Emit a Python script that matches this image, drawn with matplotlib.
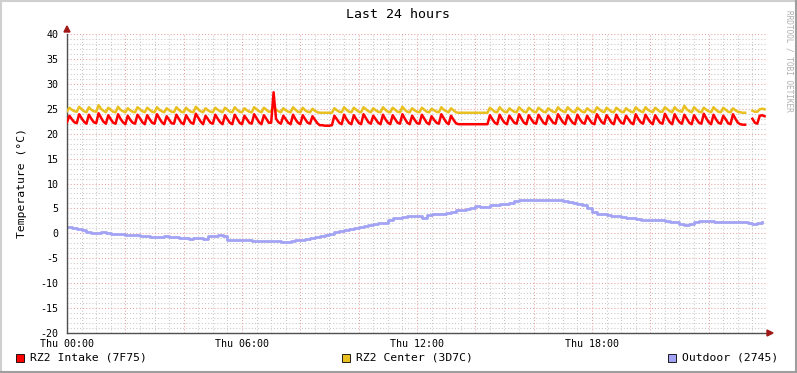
import numpy as np
import matplotlib
matplotlib.use("Agg")
import matplotlib.pyplot as plt
from matplotlib.patches import Rectangle, Polygon
from matplotlib.lines import Line2D

# ---- data (5 min samples for the rack sensors, 10 min for outdoor) ----
nan = float("nan")
intake = [
    22.3, 23.6, 22.9, 22.3, 22.1, 23.9, 23.1, 22.4, 22.0, 23.8, 23.0, 22.3,
    22.1, 24.1, 23.2, 22.4, 22.0, 23.7, 22.9, 22.2, 22.0, 23.9, 23.0, 22.3,
    21.9, 23.6, 22.8, 22.2, 22.0, 23.8, 23.1, 22.3, 21.9, 23.7, 22.9, 22.2,
    22.0, 23.9, 23.1, 22.3, 21.9, 23.5, 22.8, 22.1, 22.0, 23.8, 23.0, 22.2,
    21.9, 23.7, 22.9, 22.2, 22.0, 24.0, 23.2, 22.4, 21.9, 23.6, 22.9, 22.2,
    22.0, 23.8, 23.0, 22.3, 21.9, 23.7, 22.9, 22.2, 21.9, 23.8, 23.0, 22.2,
    21.9, 23.6, 22.9, 22.2, 22.0, 23.9, 23.1, 22.3, 21.9, 23.7, 23.0, 22.2,
    22.2, 28.3, 23.0, 22.3, 22.0, 23.6, 22.9, 22.2, 21.9, 23.8, 22.9, 22.2,
    21.9, 23.7, 22.9, 22.2, 22.0, 23.5, 22.8, 22.1, 21.7, 21.7, 21.6, 21.6,
    21.6, 21.7, 23.6, 22.9, 22.2, 21.9, 23.8, 22.9, 22.2, 21.9, 23.7, 22.9,
    22.2, 21.9, 23.9, 23.1, 22.3, 22.0, 23.6, 22.9, 22.2, 21.9, 23.8, 22.9,
    22.2, 21.9, 23.7, 22.9, 22.2, 22.0, 23.9, 23.0, 22.2, 21.9, 23.6, 22.8,
    22.1, 22.0, 23.8, 23.0, 22.2, 21.9, 23.5, 22.8, 22.2, 22.0, 23.9, 23.1,
    22.3, 21.9, 23.6, 22.8, 22.1, 21.9, 21.9, 21.9, 21.9, 21.9, 21.9, 21.9,
    21.9, 21.9, 21.9, 21.9, 21.9, 21.9, 23.7, 22.9, 22.2, 21.9, 23.8, 22.9,
    22.2, 21.9, 23.6, 22.9, 22.2, 22.0, 23.9, 23.0, 22.2, 21.9, 23.7, 22.9,
    22.2, 22.0, 23.8, 23.0, 22.2, 21.9, 23.6, 22.9, 22.2, 22.0, 23.9, 23.1,
    22.3, 21.9, 23.7, 22.9, 22.2, 21.9, 23.8, 22.9, 22.2, 22.0, 23.6, 22.8,
    22.1, 21.9, 23.9, 23.1, 22.3, 22.0, 23.7, 23.0, 22.2, 21.9, 23.8, 22.9,
    22.2, 22.0, 23.6, 22.9, 22.2, 21.9, 23.9, 23.0, 22.3, 22.0, 23.8, 23.0,
    22.3, 21.9, 23.7, 22.9, 22.2, 22.0, 24.0, 23.1, 22.3, 21.9, 23.9, 23.0,
    22.3, 22.0, 23.8, 23.0, 22.2, 21.9, 23.7, 22.9, 22.2, 22.0, 24.0, 23.1,
    22.3, 21.9, 23.8, 22.9, 22.2, 22.0, 23.6, 22.9, 22.1, 21.9, 23.9, 23.0,
    22.2, 21.9, 21.8, 21.8, nan, nan, 23.0, 22.2, 22.0, 23.6, 23.7, 23.5,
]
center = [
    24.5, 25.2, 24.8, 24.5, 24.4, 25.4, 24.9, 24.5, 24.3, 25.3, 24.8, 24.5,
    24.4, 25.7, 25.0, 24.6, 24.3, 25.2, 24.8, 24.4, 24.3, 25.4, 24.8, 24.5,
    24.3, 25.1, 24.7, 24.4, 24.3, 25.3, 24.9, 24.5, 24.3, 25.2, 24.8, 24.4,
    24.3, 25.3, 24.8, 24.5, 24.3, 25.1, 24.7, 24.4, 24.3, 25.3, 24.8, 24.4,
    24.3, 25.2, 24.7, 24.4, 24.3, 25.4, 24.9, 24.5, 24.3, 25.1, 24.7, 24.4,
    24.3, 25.2, 24.8, 24.5, 24.3, 25.2, 24.8, 24.4, 24.3, 25.3, 24.8, 24.4,
    24.3, 25.1, 24.7, 24.4, 24.3, 25.3, 24.9, 24.5, 24.3, 25.2, 24.8, 24.4,
    24.5, 25.5, 24.8, 24.5, 24.3, 25.1, 24.7, 24.4, 24.3, 25.3, 24.8, 24.4,
    24.3, 25.2, 24.7, 24.4, 24.3, 25.0, 24.6, 24.3, 24.2, 24.2, 24.2, 24.2,
    24.2, 24.2, 25.1, 24.7, 24.4, 24.3, 25.3, 24.8, 24.4, 24.3, 25.2, 24.8,
    24.4, 24.3, 25.3, 24.9, 24.5, 24.3, 25.1, 24.7, 24.4, 24.3, 25.3, 24.8,
    24.4, 24.3, 25.2, 24.8, 24.4, 24.3, 25.4, 24.8, 24.4, 24.3, 25.1, 24.7,
    24.4, 24.3, 25.2, 24.8, 24.4, 24.3, 25.0, 24.7, 24.4, 24.3, 25.3, 24.8,
    24.5, 24.3, 25.1, 24.7, 24.3, 24.2, 24.2, 24.2, 24.2, 24.2, 24.2, 24.2,
    24.2, 24.2, 24.2, 24.2, 24.2, 24.2, 25.2, 24.8, 24.4, 24.3, 25.3, 24.8,
    24.4, 24.3, 25.1, 24.7, 24.4, 24.3, 25.3, 24.8, 24.4, 24.3, 25.2, 24.8,
    24.4, 24.3, 25.2, 24.8, 24.4, 24.3, 25.1, 24.7, 24.4, 24.3, 25.3, 24.8,
    24.5, 24.3, 25.3, 24.8, 24.4, 24.3, 25.2, 24.8, 24.4, 24.3, 25.1, 24.7,
    24.4, 24.3, 25.3, 24.9, 24.5, 24.3, 25.2, 24.8, 24.4, 24.3, 25.2, 24.8,
    24.4, 24.3, 25.1, 24.7, 24.4, 24.3, 25.3, 24.8, 24.5, 24.3, 25.3, 24.8,
    24.5, 24.3, 25.2, 24.8, 24.4, 24.4, 25.3, 24.9, 24.5, 24.3, 25.3, 24.8,
    24.5, 24.4, 25.6, 24.9, 24.5, 24.3, 25.3, 24.8, 24.4, 24.3, 25.2, 24.8,
    24.5, 24.3, 25.3, 24.8, 24.4, 24.3, 25.2, 24.8, 24.4, 24.3, 25.1, 24.7,
    24.4, 24.3, 24.2, 24.2, nan, nan, 24.6, 24.4, 24.4, 24.9, 25.0, 24.9,
]
outdoor = [
    1.2, 1.1, 0.8, 0.6, 0.3, 0.1, 0.1, 0.3, 0.0, -0.1, -0.2, -0.2,
    -0.3, -0.4, -0.4, -0.5, -0.6, -0.7, -0.8, -0.7, -0.6, -0.7, -0.8, -0.9,
    -1.0, -1.1, -0.9, -0.9, -1.1, -0.5, -0.5, -0.4, -0.6, -1.3, -1.4, -1.4,
    -1.4, -1.3, -1.5, -1.6, -1.6, -1.6, -1.5, -1.6, -1.7, -1.8, -1.6, -1.4,
    -1.4, -1.2, -0.9, -0.8, -0.6, -0.3, -0.1, 0.2, 0.4, 0.6, 0.8, 1.0,
    1.3, 1.5, 1.7, 1.8, 2.0, 2.1, 2.6, 3.0, 3.1, 3.2, 3.4, 3.4,
    3.4, 3.1, 3.7, 3.8, 3.8, 3.9, 4.0, 4.3, 4.6, 4.7, 4.8, 5.0,
    5.4, 5.3, 5.2, 5.6, 5.7, 5.9, 5.9, 6.0, 6.5, 6.7, 6.6, 6.6,
    6.7, 6.7, 6.6, 6.6, 6.7, 6.7, 6.4, 6.2, 6.0, 5.9, 5.7, 5.0,
    4.2, 3.9, 3.8, 3.6, 3.5, 3.4, 3.3, 3.1, 3.0, 2.9, 2.7, 2.7,
    2.7, 2.6, 2.6, 2.4, 2.3, 2.2, 1.9, 1.6, 1.9, 2.2, 2.5, 2.4,
    2.4, 2.3, 2.2, 2.2, 2.2, 2.2, 2.2, 2.2, 2.1, 1.9, 2.1, 2.2,
]
series_names = ["RZ2 Intake (7F75)", "RZ2 Center (3D7C)", "Outdoor (2745)"]
series_colors = ["#FF0000", "#E8C020", "#A3A3F5"]
x_ticks = [0, 6, 12, 18]
x_labels = ["Thu 00:00", "Thu 06:00", "Thu 12:00", "Thu 18:00"]
y_ticks = list(range(-20, 41, 5))

W, H = 797, 373
MONO = "DejaVu Sans Mono"


def fx(px):
    return px / W


def fy(py):
    return 1 - py / H


fig = plt.figure(figsize=(W / 100, H / 100), dpi=100)
fig.patch.set_facecolor("white")

# 3d-ish frame like rrdtool
fig.add_artist(Line2D([0, 1], [1 - 1 / H, 1 - 1 / H], transform=fig.transFigure, color="#CFCFCF", lw=1.5))
fig.add_artist(Line2D([1 / W, 1 / W], [0, 1], transform=fig.transFigure, color="#CFCFCF", lw=1.5))
fig.add_artist(Line2D([0, 1], [1 / H, 1 / H], transform=fig.transFigure, color="#9E9E9E", lw=1.5))
fig.add_artist(Line2D([1 - 1 / W, 1 - 1 / W], [0, 1], transform=fig.transFigure, color="#9E9E9E", lw=1.5))

ax = fig.add_axes([fx(67), fy(333), 700 / W, 299 / H])
ax.set_facecolor("white")
ax.set_xlim(0, 24)
ax.set_ylim(-20, 40)

# grid: minor 30 min / 1 deg, major 2 h / 5 deg
dot = (0, (1, 2))
for h in np.arange(0.5, 24, 0.5):
    if h % 2 != 0:
        ax.axvline(h, color="#C8C8C8", lw=0.75, ls=dot, zorder=0)
for v in range(-19, 41):
    if v % 5 != 0:
        ax.axhline(v, color="#C8C8C8", lw=0.75, ls=dot, zorder=0)
for h in range(2, 25, 2):
    ax.axvline(h, color="#E8A0A0", lw=0.75, ls=dot, zorder=0.5)
for v in range(-15, 41, 5):
    ax.axhline(v, color="#E8A0A0", lw=0.75, ls=dot, zorder=0.5)

t5 = np.arange(len(intake)) * 5 / 60
t10 = np.arange(len(outdoor)) * 10 / 60
ax.plot(t10, outdoor, color=series_colors[2], lw=2.0, drawstyle="steps-post", zorder=2)
ax.plot(t5, center, color=series_colors[1], lw=1.8, zorder=3)
ax.plot(t5, intake, color=series_colors[0], lw=1.8, zorder=4)

for s in ["top", "right"]:
    ax.spines[s].set_visible(False)
for s in ["left", "bottom"]:
    ax.spines[s].set_color("#505050")
    ax.spines[s].set_linewidth(1.0)

ax.set_xticks(x_ticks)
ax.set_xticklabels(x_labels, fontfamily=MONO, fontsize=7.2)
ax.set_yticks(y_ticks)
ax.set_yticklabels([str(v) for v in y_ticks], fontfamily=MONO, fontsize=7.2)
ax.tick_params(axis="x", length=0, pad=4)
ax.tick_params(axis="y", length=0, pad=6)
ax.set_ylabel("Temperature (°C)", fontfamily=MONO, fontsize=8.2, labelpad=10)

# arrows at the axis ends
fig.add_artist(Polygon([[fx(64), fy(32)], [fx(70), fy(32)], [fx(67), fy(26)]],
                       closed=True, transform=fig.transFigure, color="#A01818"))
fig.add_artist(Polygon([[fx(767), fy(330)], [fx(767), fy(336)], [fx(773), fy(333)]],
                       closed=True, transform=fig.transFigure, color="#A01818"))

fig.text(fx(398), fy(14), "Last 24 hours", ha="center", va="center",
         fontfamily=MONO, fontsize=9.5)
fig.text(fx(789), fy(10), "RRDTOOL / TOBI OETIKER", ha="center", va="top",
         rotation=270, fontfamily=MONO, fontsize=5.6, color="#B0B0B0")

# legend row
legend_x = [16, 342, 668]
for x0, name, col in zip(legend_x, series_names, series_colors):
    fig.add_artist(Rectangle((fx(x0), fy(362)), 8 / W, 8 / H, transform=fig.transFigure,
                             facecolor=col, edgecolor="#000000", lw=0.6))
    fig.text(fx(x0 + 14), fy(358), name, ha="left", va="center",
             fontfamily=MONO, fontsize=8.2)

fig.savefig("out.png", dpi=100, facecolor=fig.get_facecolor())
